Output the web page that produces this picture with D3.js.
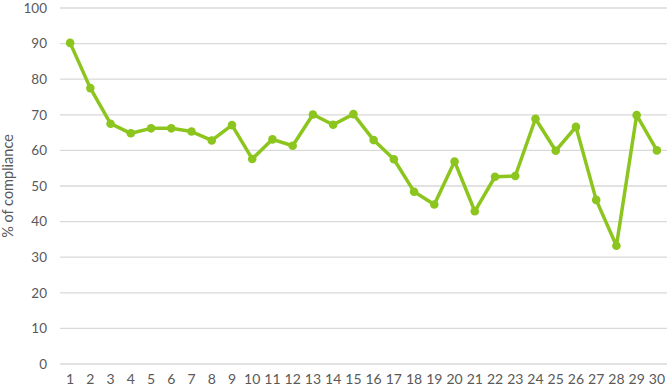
<!DOCTYPE html>
<html>
<head>
<meta charset="utf-8">
<script src="https://cdn.jsdelivr.net/npm/d3@7"></script>
<style>
  body { margin: 0; background: #fff; }
  svg text { font-family: "Lato", "Open Sans", sans-serif; fill: #595959; }
</style>
</head>
<body>
<svg id="chart" width="669" height="391"></svg>
<script>
// data
var days = d3.range(1, 31).map(String);
var compliance = [90.2, 77.5, 67.5, 64.8, 66.2, 66.2, 65.3, 62.8, 67.1, 57.6,
                  63.1, 61.3, 70.1, 67.2, 70.2, 62.9, 57.5, 48.4, 44.8, 56.9,
                  42.9, 52.6, 52.8, 68.9, 59.9, 66.6, 46.1, 33.2, 69.9, 60];
var yTicks = [0, 10, 20, 30, 40, 50, 60, 70, 80, 90, 100];

var svg = d3.select("#chart");
var margin = {left: 60, right: 2, top: 8, bottom: 27};
var width = 669 - margin.left - margin.right,
    height = 391 - margin.top - margin.bottom;

var g = svg.append("g").attr("transform", "translate(" + margin.left + "," + margin.top + ")");

var x = d3.scaleBand().domain(days).range([0, width]);
var y = d3.scaleLinear().domain([0, 100]).range([height, 0]);

// gridlines
g.append("g").selectAll("line").data(yTicks).enter().append("line")
  .attr("x1", 0).attr("x2", width)
  .attr("y1", function(d) { return y(d); })
  .attr("y2", function(d) { return y(d); })
  .attr("stroke", "#d9d9d9").attr("stroke-width", 1.3);

// y axis labels
var yAxis = g.append("g").call(d3.axisLeft(y).tickValues(yTicks).tickSize(0).tickPadding(13));
yAxis.select(".domain").remove();
yAxis.selectAll("text").style("font-size", "13.5px").attr("fill", "#595959");

// x axis labels
var xAxis = g.append("g").attr("transform", "translate(0," + height + ")")
  .call(d3.axisBottom(x).tickSize(0).tickPadding(10));
xAxis.select(".domain").remove();
xAxis.selectAll("text").style("font-size", "14px").attr("fill", "#595959");

// y title
svg.append("text")
  .attr("transform", "translate(13," + (margin.top + height / 2) + ") rotate(-90)")
  .attr("text-anchor", "middle")
  .style("font-size", "14.5px")
  .text("% of compliance");

var cx = function(d, i) { return x(days[i]) + x.bandwidth() / 2; };

var line = d3.line()
  .x(cx)
  .y(function(d) { return y(d); });

g.append("path").datum(compliance)
  .attr("d", line)
  .attr("fill", "none")
  .attr("stroke", "#8cc51e")
  .attr("stroke-width", 3.5)
  .attr("stroke-linejoin", "round");

g.append("g").selectAll("circle").data(compliance).enter().append("circle")
  .attr("cx", cx)
  .attr("cy", function(d) { return y(d); })
  .attr("r", 4.3)
  .attr("fill", "#8cc51e");
</script>
</body>
</html>
